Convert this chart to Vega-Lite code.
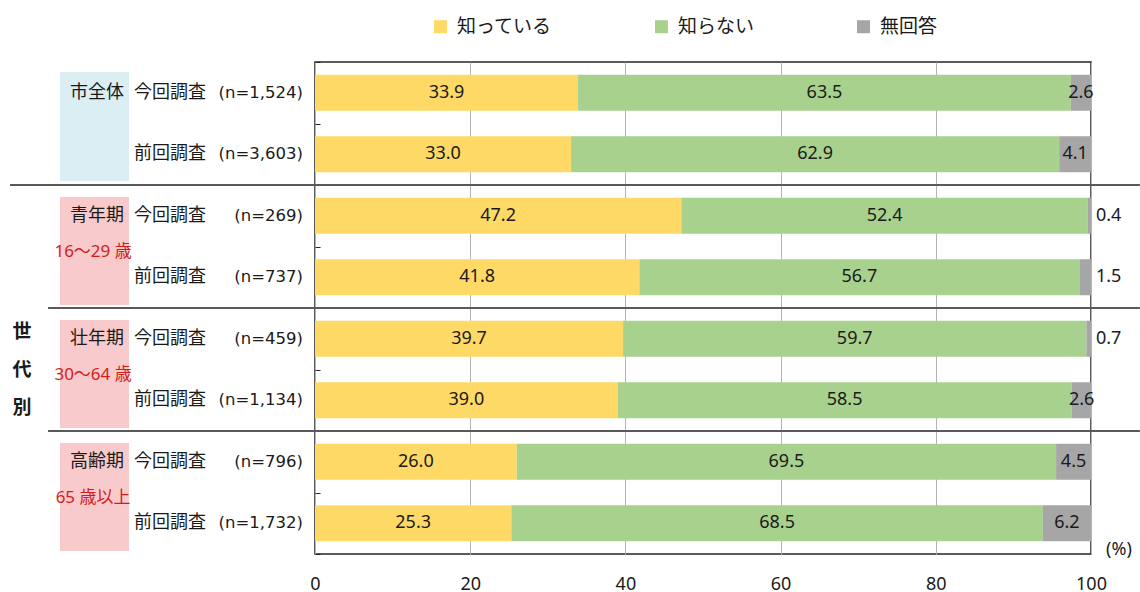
{
  "$schema": "https://vega.github.io/schema/vega-lite/v6.json",
  "width": 776,
  "height": 492,
  "autosize": {"type": "none"},
  "padding": {"left": 315, "top": 62, "right": 49, "bottom": 38},
  "background": "white",
  "config": {
    "font": "Noto Sans, Noto Sans CJK JP",
    "view": {"stroke": "#262626", "strokeWidth": 1.5},
    "text": {"font": "Noto Sans, Noto Sans CJK JP", "fontSize": 18, "color": "#1a1a1a"}
  },
  "datasets": {
    "bars": [
      {"id": "市全体 今回", "group": "市全体", "survey": "今回調査", "n": "(n=1,524)", "cat": "知っている", "k": 1, "value": 33.9},
      {"id": "市全体 今回", "group": "市全体", "survey": "今回調査", "n": "(n=1,524)", "cat": "知らない", "k": 2, "value": 63.5},
      {"id": "市全体 今回", "group": "市全体", "survey": "今回調査", "n": "(n=1,524)", "cat": "無回答", "k": 3, "value": 2.6},
      {"id": "市全体 前回", "group": "市全体", "survey": "前回調査", "n": "(n=3,603)", "cat": "知っている", "k": 1, "value": 33.0},
      {"id": "市全体 前回", "group": "市全体", "survey": "前回調査", "n": "(n=3,603)", "cat": "知らない", "k": 2, "value": 62.9},
      {"id": "市全体 前回", "group": "市全体", "survey": "前回調査", "n": "(n=3,603)", "cat": "無回答", "k": 3, "value": 4.1},
      {"id": "青年期 今回", "group": "青年期", "survey": "今回調査", "n": "(n=269)", "cat": "知っている", "k": 1, "value": 47.2},
      {"id": "青年期 今回", "group": "青年期", "survey": "今回調査", "n": "(n=269)", "cat": "知らない", "k": 2, "value": 52.4},
      {"id": "青年期 今回", "group": "青年期", "survey": "今回調査", "n": "(n=269)", "cat": "無回答", "k": 3, "value": 0.4},
      {"id": "青年期 前回", "group": "青年期", "survey": "前回調査", "n": "(n=737)", "cat": "知っている", "k": 1, "value": 41.8},
      {"id": "青年期 前回", "group": "青年期", "survey": "前回調査", "n": "(n=737)", "cat": "知らない", "k": 2, "value": 56.7},
      {"id": "青年期 前回", "group": "青年期", "survey": "前回調査", "n": "(n=737)", "cat": "無回答", "k": 3, "value": 1.5},
      {"id": "壮年期 今回", "group": "壮年期", "survey": "今回調査", "n": "(n=459)", "cat": "知っている", "k": 1, "value": 39.7},
      {"id": "壮年期 今回", "group": "壮年期", "survey": "今回調査", "n": "(n=459)", "cat": "知らない", "k": 2, "value": 59.7},
      {"id": "壮年期 今回", "group": "壮年期", "survey": "今回調査", "n": "(n=459)", "cat": "無回答", "k": 3, "value": 0.7},
      {"id": "壮年期 前回", "group": "壮年期", "survey": "前回調査", "n": "(n=1,134)", "cat": "知っている", "k": 1, "value": 39.0},
      {"id": "壮年期 前回", "group": "壮年期", "survey": "前回調査", "n": "(n=1,134)", "cat": "知らない", "k": 2, "value": 58.5},
      {"id": "壮年期 前回", "group": "壮年期", "survey": "前回調査", "n": "(n=1,134)", "cat": "無回答", "k": 3, "value": 2.6},
      {"id": "高齢期 今回", "group": "高齢期", "survey": "今回調査", "n": "(n=796)", "cat": "知っている", "k": 1, "value": 26.0},
      {"id": "高齢期 今回", "group": "高齢期", "survey": "今回調査", "n": "(n=796)", "cat": "知らない", "k": 2, "value": 69.5},
      {"id": "高齢期 今回", "group": "高齢期", "survey": "今回調査", "n": "(n=796)", "cat": "無回答", "k": 3, "value": 4.5},
      {"id": "高齢期 前回", "group": "高齢期", "survey": "前回調査", "n": "(n=1,732)", "cat": "知っている", "k": 1, "value": 25.3},
      {"id": "高齢期 前回", "group": "高齢期", "survey": "前回調査", "n": "(n=1,732)", "cat": "知らない", "k": 2, "value": 68.5},
      {"id": "高齢期 前回", "group": "高齢期", "survey": "前回調査", "n": "(n=1,732)", "cat": "無回答", "k": 3, "value": 6.2}
    ],
    "groups": [
      {"group": "市全体", "top": "市全体 今回", "bottom": "市全体 前回", "age": ""},
      {"group": "青年期", "top": "青年期 今回", "bottom": "青年期 前回", "age": "16～29 歳"},
      {"group": "壮年期", "top": "壮年期 今回", "bottom": "壮年期 前回", "age": "30～64 歳"},
      {"group": "高齢期", "top": "高齢期 今回", "bottom": "高齢期 前回", "age": "65 歳以上"}
    ]
  },
  "layer": [
    {
      "data": {"name": "bars"},
      "mark": {"type": "bar", "size": 36, "clip": true},
      "encoding": {
        "x": {
          "field": "value", "type": "quantitative", "stack": "zero",
          "scale": {"domain": [0, 100], "nice": false, "zero": true},
          "axis": {
            "title": null, "values": [0, 20, 40, 60, 80, 100], "grid": true,
            "gridColor": "#B3B3B3", "gridWidth": 1, "ticks": false, "domain": false,
            "labelFontSize": 18, "labelPadding": 21, "labelColor": "#1a1a1a", "labelFlush": false,
            "labelFont": "Noto Sans, Noto Sans CJK JP"
          }
        },
        "y": {
          "field": "id", "type": "nominal",
          "scale": {
            "domain": ["市全体 今回", "市全体 前回", "青年期 今回", "青年期 前回", "壮年期 今回", "壮年期 前回", "高齢期 今回", "高齢期 前回"],
            "paddingInner": 0, "paddingOuter": 0
          },
          "axis": {
            "title": null, "labels": false, "domain": false, "ticks": true,
            "tickBand": "extent", "tickSize": -5, "tickColor": "#262626", "tickWidth": 1
          }
        },
        "color": {
          "field": "cat", "type": "nominal",
          "scale": {"domain": ["知っている", "知らない", "無回答"], "range": ["#FFD966", "#A9D18E", "#A6A6A6"]},
          "legend": {
            "orient": "none", "legendX": 116, "legendY": -45, "direction": "horizontal",
            "title": null, "symbolType": "square", "symbolSize": 169, "symbolStrokeWidth": 0,
            "labelFontSize": 19, "labelOffset": 7, "columnPadding": 99,
            "labelFont": "Noto Sans, Noto Sans CJK JP", "labelColor": "#1a1a1a"
          }
        },
        "order": {"field": "k", "type": "quantitative"}
      }
    },
    {
      "data": {"name": "groups"},
      "transform": [{"filter": "datum.group === '市全体'"}],
      "mark": {"type": "rect", "fill": "#DAEEF3", "yOffset": 10, "y2Offset": -4},
      "encoding": {
        "x": {"datum": -32.86, "type": "quantitative"},
        "x2": {"datum": -23.97},
        "y": {"field": "top", "type": "nominal", "bandPosition": 0},
        "y2": {"field": "bottom", "bandPosition": 1}
      }
    },
    {
      "data": {"name": "groups"},
      "transform": [{"filter": "datum.group !== '市全体'"}],
      "mark": {"type": "rect", "fill": "#F8CACB", "yOffset": 12, "y2Offset": -3},
      "encoding": {
        "x": {"datum": -32.86, "type": "quantitative"},
        "x2": {"datum": -23.97},
        "y": {"field": "top", "type": "nominal", "bandPosition": 0},
        "y2": {"field": "bottom", "bandPosition": 1}
      }
    },
    {
      "data": {"name": "bars"},
      "transform": [{"filter": "datum.value >= 2"}],
      "mark": {"type": "text", "align": "center", "baseline": "middle"},
      "encoding": {
        "x": {"field": "value", "type": "quantitative", "stack": "zero", "bandPosition": 0.5},
        "y": {"field": "id", "type": "nominal"},
        "order": {"field": "k", "type": "quantitative"},
        "text": {"field": "value", "type": "quantitative", "format": ".1f"}
      }
    },
    {
      "data": {"name": "bars"},
      "transform": [{"filter": "datum.value < 2"}],
      "mark": {"type": "text", "align": "left", "baseline": "middle", "dx": 5},
      "encoding": {
        "x": {"datum": 100, "type": "quantitative"},
        "y": {"field": "id", "type": "nominal"},
        "text": {"field": "value", "type": "quantitative", "format": ".1f"}
      }
    },
    {
      "data": {"name": "bars"},
      "transform": [{"filter": "datum.k === 1"}],
      "mark": {"type": "text", "align": "right", "baseline": "middle", "font": "DejaVu Sans, Noto Sans CJK JP", "fontSize": 16.5},
      "encoding": {
        "x": {"datum": -1.55, "type": "quantitative"},
        "y": {"field": "id", "type": "nominal"},
        "text": {"field": "n"}
      }
    },
    {
      "data": {"name": "bars"},
      "transform": [{"filter": "datum.k === 1"}],
      "mark": {"type": "text", "align": "left", "baseline": "middle"},
      "encoding": {
        "x": {"datum": -23.32, "type": "quantitative"},
        "y": {"field": "id", "type": "nominal"},
        "text": {"field": "survey"}
      }
    },
    {
      "data": {"name": "groups"},
      "mark": {"type": "text", "align": "right", "baseline": "middle"},
      "encoding": {
        "x": {"datum": -24.61, "type": "quantitative"},
        "y": {"field": "top", "type": "nominal"},
        "text": {"field": "group"}
      }
    },
    {
      "data": {"name": "groups"},
      "transform": [{"filter": "datum.age !== ''"}],
      "mark": {"type": "text", "align": "center", "baseline": "middle", "dy": 5, "color": "#D41C1C", "fontSize": 17},
      "encoding": {
        "x": {"datum": -28.6, "type": "quantitative"},
        "y": {"field": "bottom", "type": "nominal", "bandPosition": 0},
        "text": {"field": "age"}
      }
    },
    {
      "data": {"name": "groups"},
      "transform": [{"filter": "datum.group === '壮年期'"}],
      "mark": {"type": "text", "align": "center", "baseline": "middle", "fontWeight": "bold", "fontSize": 19, "lineBreak": "\n", "lineHeight": 38, "dy": -38},
      "encoding": {
        "x": {"datum": -37.76, "type": "quantitative"},
        "y": {"field": "bottom", "type": "nominal", "bandPosition": 0},
        "text": {"value": "世\n代\n別"}
      }
    },
    {
      "data": {"name": "groups"},
      "transform": [{"filter": "datum.group === '青年期'"}],
      "mark": {"type": "rule", "stroke": "#595959", "strokeWidth": 2},
      "encoding": {
        "x": {"datum": -39.3, "type": "quantitative"},
        "x2": {"datum": 106.3},
        "y": {"field": "top", "type": "nominal", "bandPosition": 0}
      }
    },
    {
      "data": {"name": "groups"},
      "transform": [{"filter": "datum.group === '壮年期' || datum.group === '高齢期'"}],
      "mark": {"type": "rule", "stroke": "#595959", "strokeWidth": 2},
      "encoding": {
        "x": {"datum": -34.4, "type": "quantitative"},
        "x2": {"datum": 106.3},
        "y": {"field": "top", "type": "nominal", "bandPosition": 0}
      }
    },
    {
      "data": {"name": "groups"},
      "transform": [{"filter": "datum.group === '高齢期'"}],
      "mark": {"type": "text", "align": "center", "baseline": "middle", "dy": -4, "fontSize": 18},
      "encoding": {
        "x": {"datum": 103.6, "type": "quantitative"},
        "y": {"field": "bottom", "type": "nominal", "bandPosition": 1},
        "text": {"value": "(%)"}
      }
    }
  ]
}
